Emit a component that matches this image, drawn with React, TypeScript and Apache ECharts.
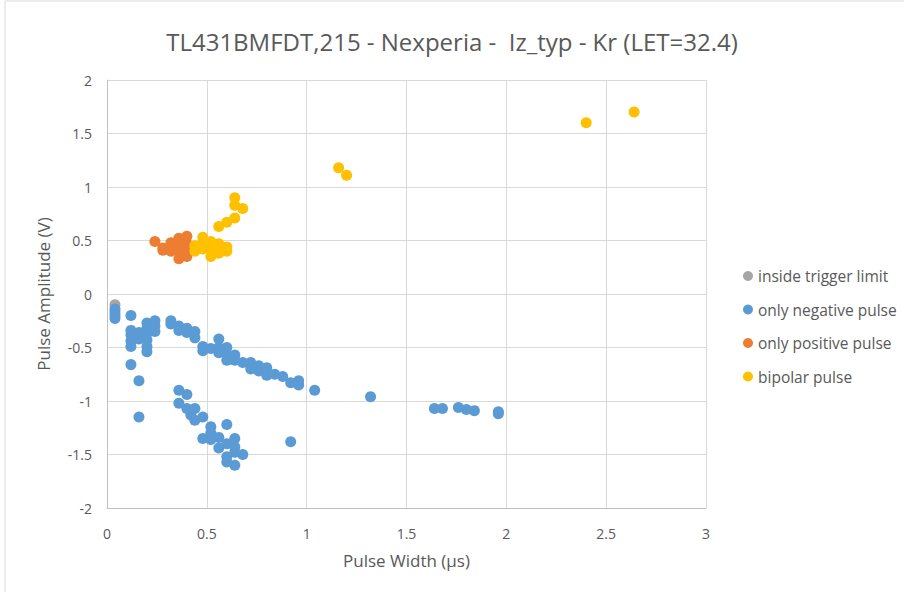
import React, { useEffect, useRef } from "react";
import * as echarts from "echarts";

const titleText = "TL431BMFDT,215 - Nexperia -  Iz_typ - Kr (LET=32.4)";
const xAxisName = "Pulse Width (µs)";
const yAxisName = "Pulse Amplitude (V)";
const seriesNames = ["inside trigger limit", "only negative pulse", "only positive pulse", "bipolar pulse"];

const insideTrigger: number[][] = [[0.04, -0.1]];

const onlyNegative: number[][] = [
  [0.04, -0.14], [0.04, -0.17], [0.04, -0.2], [0.04, -0.23],
  [0.12, -0.2], [0.12, -0.34], [0.12, -0.38], [0.12, -0.44], [0.12, -0.49], [0.12, -0.66],
  [0.16, -0.81], [0.16, -1.15], [0.16, -0.36], [0.16, -0.42], [0.16, -0.39],
  [0.2, -0.27], [0.2, -0.32], [0.2, -0.37], [0.2, -0.43], [0.2, -0.49], [0.2, -0.54],
  [0.24, -0.25], [0.24, -0.3], [0.24, -0.35],
  [0.32, -0.25], [0.32, -0.28], [0.36, -0.3], [0.36, -0.34], [0.4, -0.32], [0.4, -0.36],
  [0.44, -0.35], [0.44, -0.41], [0.48, -0.49], [0.48, -0.53], [0.52, -0.51],
  [0.56, -0.42], [0.56, -0.5], [0.56, -0.55], [0.6, -0.5], [0.6, -0.57], [0.6, -0.62],
  [0.64, -0.57], [0.64, -0.62], [0.68, -0.64], [0.72, -0.64], [0.72, -0.7],
  [0.76, -0.67], [0.76, -0.72], [0.8, -0.69], [0.8, -0.76], [0.84, -0.75], [0.88, -0.77],
  [0.92, -0.83], [0.96, -0.81], [0.96, -0.85], [1.04, -0.9], [1.32, -0.96],
  [1.64, -1.07], [1.68, -1.07], [1.76, -1.06], [1.8, -1.08], [1.84, -1.09], [1.96, -1.1], [1.96, -1.12],
  [0.36, -0.9], [0.4, -0.94], [0.36, -1.02], [0.4, -1.07], [0.44, -1.07], [0.42, -1.13],
  [0.48, -1.15], [0.44, -1.18], [0.52, -1.24], [0.6, -1.22], [0.48, -1.35], [0.52, -1.36],
  [0.56, -1.34], [0.64, -1.35], [0.56, -1.44], [0.64, -1.43], [0.6, -1.52], [0.68, -1.5],
  [0.6, -1.57], [0.64, -1.6], [0.52, -1.3], [0.6, -1.4], [0.64, -1.48], [0.92, -1.38],
];

const onlyPositive: number[][] = [
  [0.24, 0.49], [0.28, 0.43], [0.28, 0.41], [0.32, 0.48], [0.32, 0.4], [0.32, 0.44],
  [0.36, 0.52], [0.36, 0.45], [0.36, 0.33], [0.36, 0.4], [0.4, 0.54], [0.4, 0.47],
  [0.4, 0.35], [0.4, 0.42],
];

const bipolar: number[][] = [
  [0.44, 0.45], [0.44, 0.4], [0.48, 0.53], [0.48, 0.48], [0.48, 0.42], [0.52, 0.49],
  [0.52, 0.44], [0.52, 0.35], [0.56, 0.47], [0.56, 0.42], [0.56, 0.38], [0.6, 0.4],
  [0.6, 0.44], [0.56, 0.63], [0.6, 0.67], [0.64, 0.71], [0.64, 0.83], [0.64, 0.9],
  [0.68, 0.8], [1.16, 1.18], [1.2, 1.11], [2.4, 1.6], [2.64, 1.7],
];

const colors = ["#A5A5A5", "#5B9BD5", "#ED7D31", "#FFC000"];
const font = "Open Sans";

export default function App() {
  const ref = useRef<HTMLDivElement>(null);
  useEffect(() => {
    document.body.style.margin = "0";
    const chart = echarts.init(ref.current!, null, { renderer: "svg" });
    const datas = [insideTrigger, onlyNegative, onlyPositive, bipolar];
    chart.setOption({
      animation: false,
      color: colors,
      textStyle: { fontFamily: font },
      title: {
        text: titleText,
        left: "center",
        top: 24,
        textStyle: { fontFamily: font, fontSize: 24, fontWeight: "normal", color: "#595959" },
      },
      graphic: [
        {
          type: "rect",
          shape: { x: 5, y: 1, width: 905, height: 600 },
          style: { fill: "none", stroke: "#d9d9d9", lineWidth: 1 },
          silent: true,
        },
      ],
      legend: {
        orient: "vertical",
        left: 738,
        top: 263,
        itemGap: 17.5,
        itemWidth: 10,
        itemHeight: 10,
        icon: "circle",
        textStyle: { fontFamily: font, fontSize: 15.5, color: "#595959" },
        data: seriesNames,
      },
      grid: { left: 107, top: 80, width: 599, height: 428, containLabel: false },
      xAxis: {
        type: "value",
        min: 0,
        max: 3,
        interval: 0.5,
        name: xAxisName,
        nameLocation: "middle",
        nameGap: 44,
        nameTextStyle: { fontFamily: font, fontSize: 17, color: "#595959" },
        axisLine: { show: true, onZero: false, lineStyle: { color: "#bfbfbf", width: 1 } },
        axisTick: { show: false },
        axisLabel: { margin: 18, fontFamily: font, fontSize: 14, color: "#595959" },
        splitLine: { show: true, lineStyle: { color: "#d9d9d9", width: 1 } },
      },
      yAxis: {
        type: "value",
        min: -2,
        max: 2,
        interval: 0.5,
        name: yAxisName,
        nameLocation: "middle",
        nameGap: 55,
        nameRotate: 90,
        nameTextStyle: { fontFamily: font, fontSize: 17, color: "#595959" },
        axisLine: { show: true, onZero: false, lineStyle: { color: "#bfbfbf", width: 1 } },
        axisTick: { show: false },
        axisLabel: { margin: 15, fontFamily: font, fontSize: 14, color: "#595959" },
        splitLine: { show: true, lineStyle: { color: "#d9d9d9", width: 1 } },
      },
      series: seriesNames.map((n, i) => ({
        name: n,
        type: "scatter",
        symbol: "circle",
        symbolSize: 11,
        data: datas[i],
        itemStyle: { color: colors[i], opacity: 1 },
      })),
    });
    return () => chart.dispose();
  }, []);
  return <div ref={ref} style={{ width: 904, height: 592 }} />;
}
